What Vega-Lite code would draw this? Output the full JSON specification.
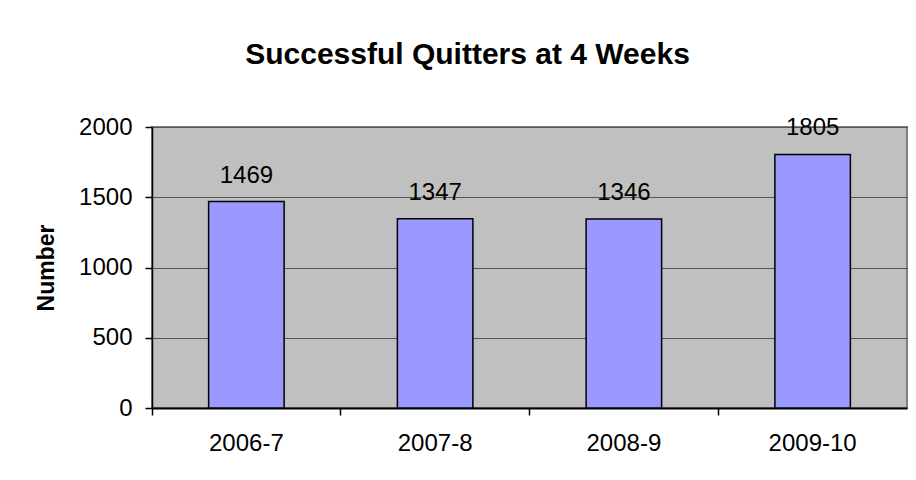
{
  "$schema": "https://vega.github.io/schema/vega-lite/v6.json",
  "width": 755,
  "height": 281,
  "autosize": "none",
  "padding": {"left": 152, "top": 127, "right": 9, "bottom": 72},
  "background": "white",
  "title": {
    "text": "Successful Quitters at 4 Weeks",
    "font": "Liberation Sans",
    "fontSize": 30,
    "fontWeight": "bold",
    "color": "black",
    "anchor": "middle",
    "frame": "group",
    "dx": -62,
    "offset": 45
  },
  "data": {
    "values": [
      {"year": "2006-7", "quitters": 1469},
      {"year": "2007-8", "quitters": 1347},
      {"year": "2008-9", "quitters": 1346},
      {"year": "2009-10", "quitters": 1805}
    ]
  },
  "encoding": {
    "x": {
      "field": "year",
      "type": "ordinal",
      "sort": null,
      "scale": {"paddingInner": 0, "paddingOuter": 0},
      "axis": {
        "title": null,
        "bandPosition": 0,
        "labelAngle": 0,
        "labelFont": "Liberation Sans",
        "labelFontSize": 24,
        "labelColor": "black",
        "labelPadding": 16,
        "tickSize": 7,
        "tickColor": "black",
        "tickWidth": 1.5,
        "domainColor": "black",
        "domainWidth": 2,
        "grid": false
      }
    },
    "y": {
      "field": "quitters",
      "type": "quantitative",
      "scale": {"domain": [0, 2000], "nice": false},
      "axis": {
        "title": "Number",
        "titleFont": "Liberation Sans",
        "titleFontSize": 23,
        "titleFontWeight": "bold",
        "titleColor": "black",
        "titlePadding": 20,
        "values": [0, 500, 1000, 1500, 2000],
        "format": "d",
        "labelFont": "Liberation Sans",
        "labelFontSize": 24,
        "labelColor": "black",
        "labelPadding": 13,
        "tickSize": 7,
        "tickColor": "black",
        "tickWidth": 1.5,
        "domainColor": "black",
        "domainWidth": 1.5,
        "grid": true,
        "gridColor": "#555555",
        "gridWidth": 1.2,
        "gridOpacity": 1
      }
    }
  },
  "layer": [
    {
      "mark": {
        "type": "bar",
        "fill": "#9999FF",
        "stroke": "black",
        "strokeWidth": 1.5,
        "width": {"band": 0.4}
      }
    },
    {
      "mark": {
        "type": "text",
        "baseline": "alphabetic",
        "dy": -19,
        "font": "Liberation Sans",
        "fontSize": 24,
        "color": "black"
      },
      "encoding": {"text": {"field": "quitters", "type": "quantitative", "format": "d"}}
    }
  ],
  "config": {
    "view": {"fill": "#C0C0C0", "stroke": "#808080", "strokeWidth": 2}
  }
}
